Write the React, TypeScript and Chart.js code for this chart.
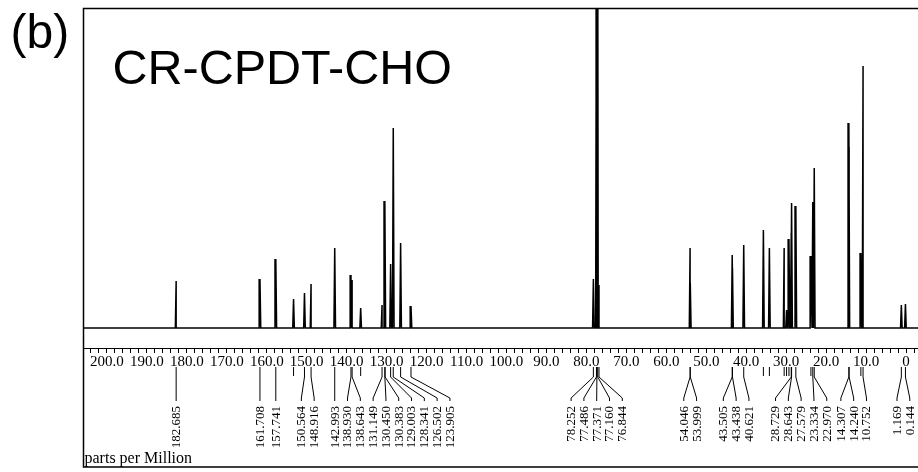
import React, { useEffect, useRef } from "react";
import { Chart, registerables } from "chart.js";

Chart.register(...registerables);

// ---- data ----
const LABELED_PPM = [
  182.685, 161.708, 157.741, 150.564, 148.916, 142.993, 138.93, 138.643,
  131.149, 130.45, 130.383, 129.003, 128.341, 126.502, 123.905,
  78.252, 77.486, 77.371, 77.16, 76.844,
  54.046, 53.999, 43.505, 43.438, 40.621,
  28.729, 28.643, 27.579, 23.334, 22.97,
  14.307, 14.24, 10.752, 1.169, 0.144,
];
const LABELED_INTENSITY = [
  47, 49, 69, 35, 44, 80, 53, 48,
  23, 127, 67, 64, 200, 85, 22,
  49, 400, 400, 400, 43,
  80, 45, 73, 60, 83,
  95, 125, 122, 126, 160,
  205, 181, 262, 23, 24,
];
const UNLABELED_PPM = [153.3, 136.5, 35.7, 34.2, 30.5, 29.9, 29.3, 23.8, 11.3];
const UNLABELED_INTENSITY = [29, 20, 98, 80, 80, 18, 89, 72, 75];

const AXIS_MAJOR_TICKS = [200, 190, 180, 170, 160, 150, 140, 130, 120, 110, 100, 90, 80, 70, 60, 50, 40, 30, 20, 10, 0];
const AXIS_MAJOR_LABELS = ["200.0", "190.0", "180.0", "170.0", "160.0", "150.0", "140.0", "130.0", "120.0", "110.0", "100.0", "90.0", "80.0", "70.0", "60.0", "50.0", "40.0", "30.0", "20.0", "10.0", "0"];
const AXIS_MINOR_TICKS = [
  204, 202, 198, 196, 194, 192, 188, 186, 184, 182, 178, 176, 174, 172, 168, 166, 164, 162,
  158, 156, 154, 152, 148, 146, 144, 142, 138, 136, 134, 132, 128, 126, 124, 122,
  118, 116, 114, 112, 108, 106, 104, 102, 98, 96, 94, 92, 88, 86, 84, 82,
  78, 76, 74, 72, 68, 66, 64, 62, 58, 56, 54, 52, 48, 46, 44, 42,
  38, 36, 34, 32, 28, 26, 24, 22, 18, 16, 14, 12, 8, 6, 4, 2, -2,
];

const X_MIN = -3;
const X_MAX = 206;
const Y_MIN = -20;
const Y_MAX = 320;
const PEAK_HALF_WIDTH = 0.2;

const TITLE = "CR-CPDT-CHO";
const PANEL = "(b)";
const X_TITLE = "parts per Million";

const SERIF = "'Liberation Serif', 'DejaVu Serif', serif";
const SANS = "'Liberation Sans', Arial, Helvetica, sans-serif";

function buildSpectrum() {
  const peaks: { x: number; h: number }[] = [];
  LABELED_PPM.forEach((p, i) => peaks.push({ x: p, h: LABELED_INTENSITY[i] }));
  UNLABELED_PPM.forEach((p, i) => peaks.push({ x: p, h: UNLABELED_INTENSITY[i] }));
  peaks.sort((a, b) => a.x - b.x);
  const pts: { x: number; y: number }[] = [{ x: X_MIN, y: 0 }];
  peaks.forEach((pk) => {
    pts.push({ x: pk.x - PEAK_HALF_WIDTH, y: 0 });
    pts.push({ x: pk.x, y: pk.h });
    pts.push({ x: pk.x + PEAK_HALF_WIDTH, y: 0 });
  });
  pts.push({ x: X_MAX, y: 0 });
  return pts;
}

// spread peak labels so they don't overlap
function layoutLabels(xs: number[], gap: number): number[] {
  const order = xs.map((x, i) => ({ x, i })).sort((a, b) => a.x - b.x);
  type Cl = { items: { x: number; i: number }[]; start: number };
  const clusters: Cl[] = [];
  const endOf = (c: Cl) => c.start + (c.items.length - 1) * gap;
  order.forEach((it) => {
    const last = clusters[clusters.length - 1];
    if (last && it.x < endOf(last) + gap) {
      last.items.push(it);
      const mean = last.items.reduce((s, q) => s + q.x, 0) / last.items.length;
      let start = mean - ((last.items.length - 1) * gap) / 2;
      const prev = clusters[clusters.length - 2];
      if (prev) start = Math.max(start, endOf(prev) + gap);
      last.start = start;
    } else {
      clusters.push({ items: [it], start: it.x });
    }
  });
  const out = new Array(xs.length).fill(0);
  clusters.forEach((c) => c.items.forEach((q, k) => (out[q.i] = c.start + k * gap)));
  return out;
}

const annotationPlugin = {
  id: "nmrAnnotations",
  afterDraw(chart: any) {
    const ctx: CanvasRenderingContext2D = chart.ctx;
    const xs = chart.scales.x;
    const area = chart.chartArea;
    const base = area.bottom;
    ctx.save();

    // peak labels
    ctx.strokeStyle = "#000";
    ctx.lineWidth = 1;
    const peakPx = LABELED_PPM.map((p) => xs.getPixelForValue(p));
    const labelPx = layoutLabels(peakPx, 12.8);
    ctx.font = `13px ${SERIF}`;
    ctx.fillStyle = "#000";
    peakPx.forEach((px, i) => {
      const lx = labelPx[i];
      ctx.beginPath();
      ctx.moveTo(px, base + 19);
      ctx.lineTo(px, base + 29);
      ctx.lineTo(lx, base + 50);
      ctx.lineTo(lx, base + 53);
      ctx.stroke();
      ctx.save();
      ctx.translate(lx, base + 58);
      ctx.rotate(-Math.PI / 2);
      ctx.textAlign = "right";
      ctx.textBaseline = "middle";
      ctx.fillText(LABELED_PPM[i].toFixed(3), 0, 0.5);
      ctx.restore();
    });
    UNLABELED_PPM.forEach((p) => {
      const px = xs.getPixelForValue(p);
      ctx.beginPath();
      ctx.moveTo(px, base + 19);
      ctx.lineTo(px, base + 28);
      ctx.stroke();
    });

    // x title
    ctx.font = `16px ${SERIF}`;
    ctx.textAlign = "left";
    ctx.textBaseline = "alphabetic";
    ctx.fillText(X_TITLE, area.left + 1.5, base + 115);

    // frame
    ctx.lineWidth = 1.5;
    ctx.beginPath();
    ctx.moveTo(chart.width, area.top + 0.5);
    ctx.lineTo(area.left + 0.5, area.top + 0.5);
    ctx.lineTo(area.left + 0.5, base + 119);
    ctx.lineTo(chart.width, base + 119);
    ctx.stroke();

    // compound name
    ctx.font = `48.5px ${SANS}`;
    ctx.fillText(TITLE, 112.5, 83.5);
    // panel letter
    ctx.font = `48px ${SANS}`;
    ctx.fillText(PANEL, 10.5, 48);
    ctx.restore();
  },
};

export default function App() {
  const ref = useRef<HTMLCanvasElement | null>(null);
  useEffect(() => {
    if (!ref.current) return;
    const allTicks = [...AXIS_MAJOR_TICKS, ...AXIS_MINOR_TICKS].sort((a, b) => b - a);
    const chart = new Chart(ref.current, {
      type: "line",
      data: {
        datasets: [
          {
            data: buildSpectrum(),
            borderColor: "#000",
            borderWidth: 1.5,
            pointRadius: 0,
            tension: 0,
            fill: false,
          },
        ],
      },
      options: {
        animation: false,
        responsive: false,
        maintainAspectRatio: false,
        events: [],
        layout: { padding: { left: 83, right: 0, top: 8, bottom: 0 } },
        plugins: { legend: { display: false }, tooltip: { enabled: false }, title: { display: false } },
        scales: {
          x: {
            type: "linear",
            reverse: true,
            min: X_MIN,
            max: X_MAX,
            afterBuildTicks: (scale: any) => {
              scale.ticks = allTicks.map((v) => ({ value: v }));
            },
            afterFit: (scale: any) => {
              scale.height = 124;
            },
            ticks: {
              autoSkip: false,
              maxRotation: 0,
              minRotation: 0,
              padding: 0,
              color: "#000",
              font: { family: SERIF, size: 15 },
              callback: (v: any) => {
                const k = AXIS_MAJOR_TICKS.indexOf(Number(v));
                return k >= 0 ? AXIS_MAJOR_LABELS[k] : "";
              },
            },
            grid: {
              drawOnChartArea: false,
              drawTicks: true,
              tickLength: 5,
              tickColor: "#000",
              tickWidth: 1,
            },
            border: { display: true, color: "#000", width: 1 },
          },
          y: {
            type: "linear",
            display: false,
            min: Y_MIN,
            max: Y_MAX,
          },
        },
      },
      plugins: [annotationPlugin],
    });
    return () => chart.destroy();
  }, []);
  return (
    <div style={{ position: "fixed", left: 0, top: 0, width: 918, height: 472, background: "#fff" }}>
      <canvas ref={ref} width={918} height={472} style={{ display: "block" }} />
    </div>
  );
}
